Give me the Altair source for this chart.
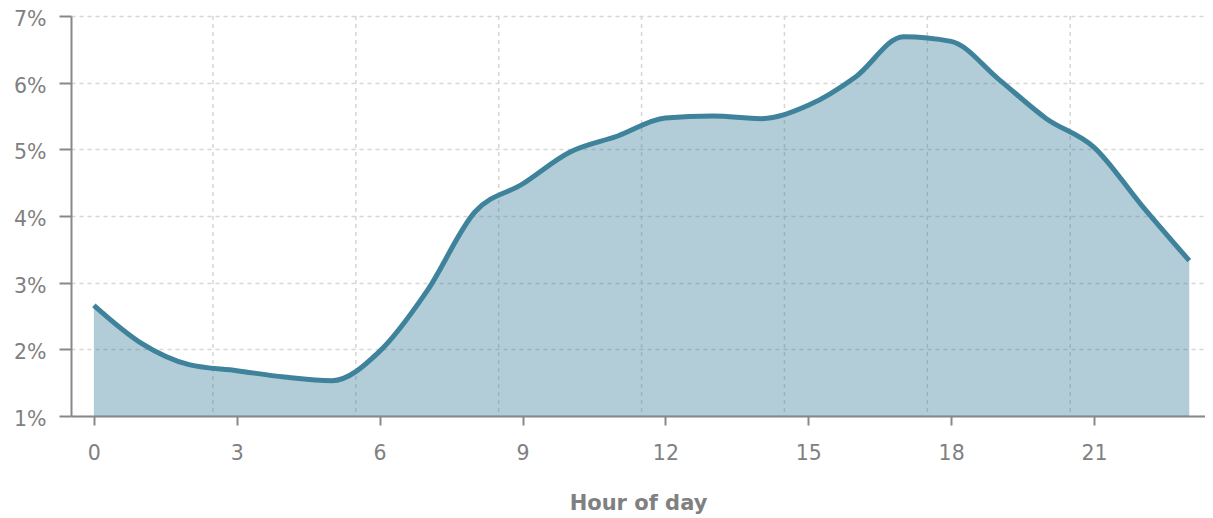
import altair as alt
import pandas as pd

hours = list(range(24))
share = [2.66, 2.09, 1.77, 1.68, 1.585, 1.53, 1.97, 2.88, 4.06, 4.48, 4.96, 5.2,
         5.47, 5.5, 5.46, 5.66, 6.09, 6.69, 6.62, 6.05, 5.46, 5.03, 4.16, 3.33]
x_ticks = [0, 3, 6, 9, 12, 15, 18, 21]
y_ticks = [1, 2, 3, 4, 5, 6, 7]
grid_x = [2.5, 5.5, 8.5, 11.5, 14.5, 17.5, 20.5]

df = pd.DataFrame({"hour": hours, "share": share})
gdf = pd.DataFrame({"gx": grid_x})

LINE = "#3e839b"
GRAY = "#808080"
GRID = "#d6d6d6"

xscale = alt.Scale(domain=[-0.48, 23.33], nice=False, zero=False)
yscale = alt.Scale(domain=[1, 7], nice=False, zero=False)

xaxis = alt.Axis(values=x_ticks, grid=False, title="Hour of day",
                 domainColor="#888888", domainWidth=2, tickColor="#888888",
                 tickWidth=2, tickSize=9, labelFontSize=20.5, labelColor=GRAY,
                 labelPadding=18, titleFontSize=21, titleFontWeight="bold",
                 titleColor=GRAY, titlePadding=29, labelFlush=False)
yaxis = alt.Axis(values=y_ticks, grid=True, gridDash=[4, 4], gridColor=GRID,
                 gridWidth=1.5, title=None, domainColor="#888888", domainWidth=2,
                 tickColor="#888888", tickWidth=2, tickSize=12, labelFontSize=20.5,
                 labelColor=GRAY, labelPadding=13, labelOffset=3.5,
                 labelExpr="datum.value + '%'")

vgrid = alt.Chart(gdf).mark_rule(strokeDash=[4, 4], color=GRID, strokeWidth=1.5).encode(
    x=alt.X("gx:Q", scale=xscale, axis=xaxis)
)

area = alt.Chart(df).mark_area(interpolate="monotone", color=LINE, opacity=0.4).encode(
    x=alt.X("hour:Q", scale=xscale, axis=xaxis),
    y=alt.Y("share:Q", scale=yscale, axis=yaxis),
    y2=alt.datum(1),
)

line = alt.Chart(df).mark_line(interpolate="monotone", color=LINE, strokeWidth=5).encode(
    x=alt.X("hour:Q", scale=xscale, axis=xaxis),
    y=alt.Y("share:Q", scale=yscale, axis=yaxis),
)

chart = (vgrid + area + line).properties(
    width=1134, height=400,
    autosize=alt.AutoSizeParams(type="none"),
    padding={"left": 63, "top": 8, "right": 0, "bottom": 100},
).configure(font="DejaVu Sans").configure_view(strokeWidth=0)

chart.save("out.html", embed_options={"renderer": "svg", "actions": False})
